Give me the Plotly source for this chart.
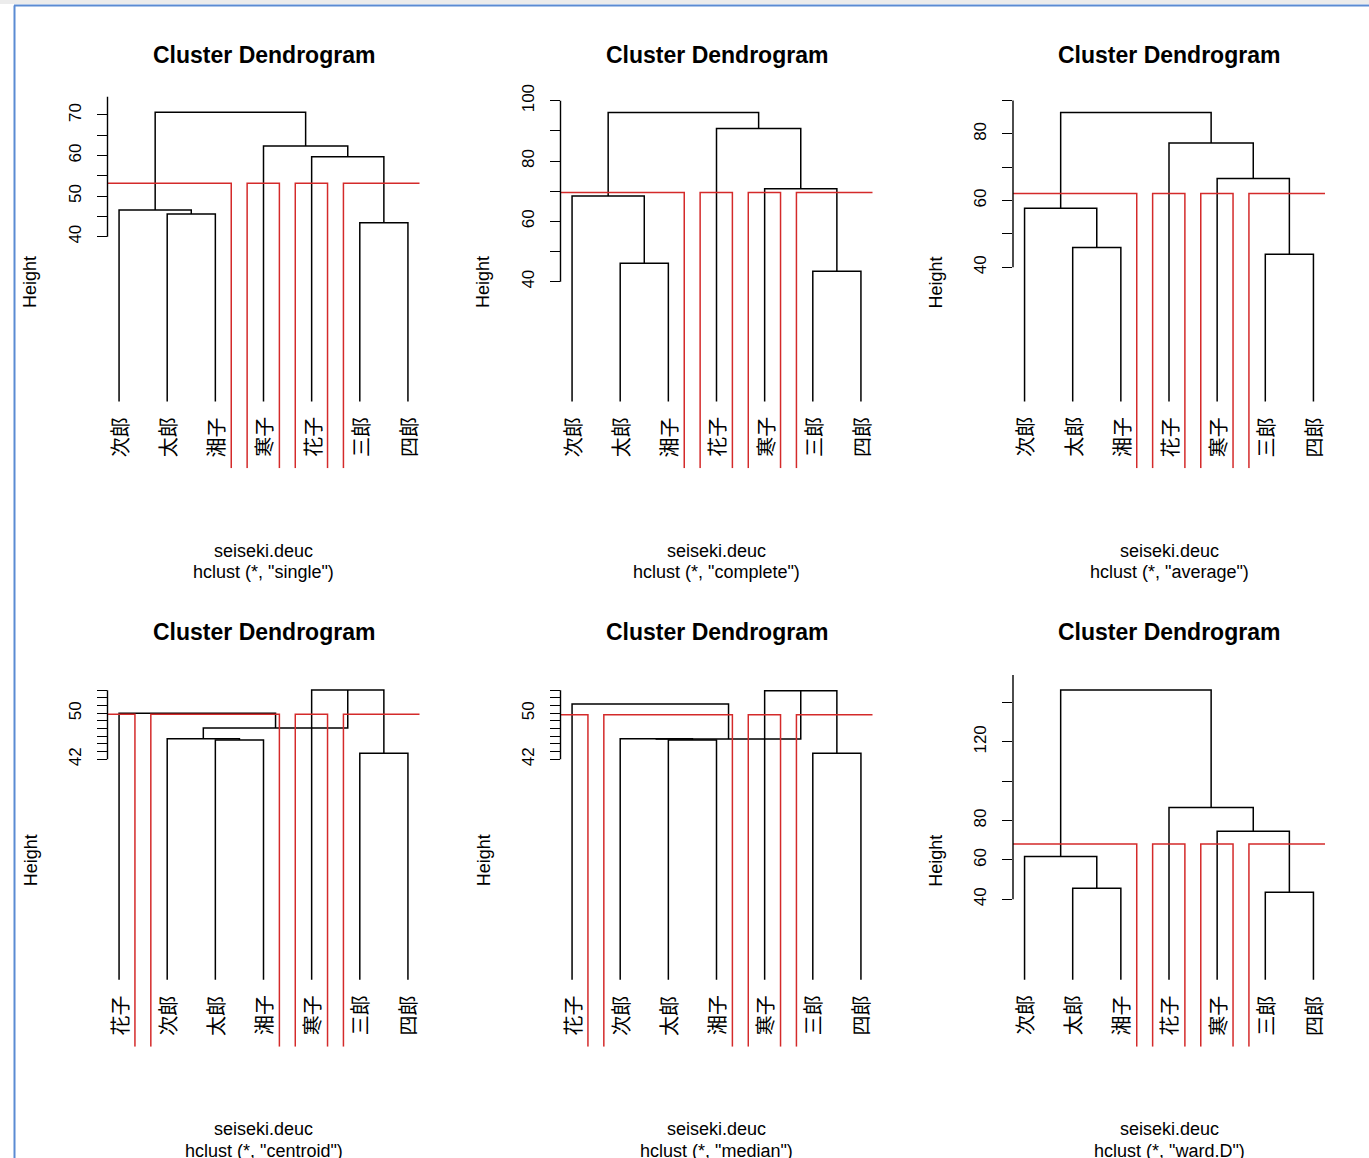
import plotly.graph_objects as go

W, H = 1369, 1158

# ---- data ----
# merges use R's convention: negative = leaf (position in the plotted order), positive = earlier merge
single_leaves = ["次郎", "太郎", "湘子", "寒子", "花子", "三郎", "四郎"]
single_merges = [(-6, -7), (-2, -3), (-1, 2), (-5, 1), (-4, 4), (3, 5)]
single_heights = [43.45, 45.6, 46.6, 59.7, 62.35, 70.65]

complete_leaves = ["次郎", "太郎", "湘子", "花子", "寒子", "三郎", "四郎"]
complete_merges = [(-6, -7), (-2, -3), (-1, 2), (-5, 1), (-4, 4), (3, 5)]
complete_heights = [43.5, 46.1, 68.4, 70.8, 90.8, 96.1]

average_leaves = ["次郎", "太郎", "湘子", "花子", "寒子", "三郎", "四郎"]
average_merges = [(-6, -7), (-2, -3), (-1, 2), (-5, 1), (-4, 4), (3, 5)]
average_heights = [43.9, 45.9, 57.7, 66.6, 77.3, 86.4]

centroid_leaves = ["花子", "次郎", "太郎", "湘子", "寒子", "三郎", "四郎"]
centroid_merges = [(-6, -7), (-3, -4), (-2, 2), (-5, 1), (3, 4), (-1, 5)]
centroid_heights = [43.04, 45.36, 45.58, 54.05, 47.44, 50.0]

median_leaves = ["花子", "次郎", "太郎", "湘子", "寒子", "三郎", "四郎"]
median_merges = [(-6, -7), (-3, -4), (-2, 2), (-5, 1), (3, 4), (-1, 5)]
median_heights = [43.04, 45.36, 45.58, 53.93, 45.55, 51.62]

ward_leaves = ["次郎", "太郎", "湘子", "花子", "寒子", "三郎", "四郎"]
ward_merges = [(-6, -7), (-2, -3), (-1, 2), (-5, 1), (-4, 4), (3, 5)]
ward_heights = [43.6, 45.6, 61.7, 74.6, 86.6, 146.4]

# y axis ticks (R pretty) and the labels R managed to print
single_ticks = [40, 45, 50, 55, 60, 65, 70, 75]
single_ticktext = ["40", "", "50", "", "60", "", "70", ""]
complete_ticks = [40, 50, 60, 70, 80, 90, 100]
complete_ticktext = ["40", "", "60", "", "80", "", "100"]
average_ticks = [40, 50, 60, 70, 80, 90]
average_ticktext = ["40", "", "60", "", "80", ""]
centroid_ticks = [42, 43.33, 44.67, 46, 47.33, 48.67, 50, 51.33, 52.67, 54]
centroid_ticktext = ["42", "", "", "", "", "", "50", "", "", ""]
median_ticks = [42, 43.33, 44.67, 46, 47.33, 48.67, 50, 51.33, 52.67, 54]
median_ticktext = ["42", "", "", "", "", "", "50", "", "", ""]
ward_ticks = [40, 60, 80, 100, 120, 140, 160]
ward_ticktext = ["40", "60", "80", "", "120", "", ""]

# plot window (par("usr")) of each panel
y_limits = [(-17.09, 74.53), (-21.85, 101.35), (-20.3, 91.2),
            (-7.98, 56.66), (-7.98, 56.66), (-34.9, 154.0)]
n_clusters = 4

panels = [
    ("single", single_leaves, single_merges, single_heights, single_ticks, single_ticktext),
    ("complete", complete_leaves, complete_merges, complete_heights, complete_ticks, complete_ticktext),
    ("average", average_leaves, average_merges, average_heights, average_ticks, average_ticktext),
    ("centroid", centroid_leaves, centroid_merges, centroid_heights, centroid_ticks, centroid_ticktext),
    ("median", median_leaves, median_merges, median_heights, median_ticks, median_ticktext),
    ("ward.D", ward_leaves, ward_merges, ward_heights, ward_ticks, ward_ticktext),
]

# pixel layout of the plot regions
col_px = [(107.5, 419.5), (560.5, 872.5), (1013.0, 1325.0)]
row_px = [(96.6, 468.3), (675.0, 1046.7)]
leaf_frac = 0.18     # leaves end this far up the plot region
label_frac = 0.143   # leaf labels start here

FONT = "Liberation Sans, Arial, sans-serif"
CJK = "Noto Sans CJK JP, sans-serif"
RED = "#d42a2a"

fig = go.Figure()
annotations = []
shapes = []


def px_x(p):
    return p / W


def px_y(p):
    return 1 - p / H


for i, (method, leaves, merges, heights, ticks, ticktext) in enumerate(panels):
    r, c = divmod(i, 3)
    xa = "x" if i == 0 else f"x{i + 1}"
    ya = "y" if i == 0 else f"y{i + 1}"
    lo, hi = y_limits[i]
    base = lo + leaf_frac * (hi - lo)
    n = len(leaves)
    m = len(merges)

    def node_x(k):
        if k < 0:
            return -k
        a, b = merges[k - 1]
        return (node_x(a) + node_x(b)) / 2

    def node_h(k):
        return base if k < 0 else heights[k - 1]

    def leaves_of(k):
        if k < 0:
            return [-k]
        a, b = merges[k - 1]
        return leaves_of(a) + leaves_of(b)

    # dendrogram segments
    xs, ys = [], []
    for j, (a, b) in enumerate(merges):
        h = heights[j]
        xs += [node_x(a), node_x(a), node_x(b), node_x(b), None]
        ys += [node_h(a), h, h, node_h(b), None]
    fig.add_trace(go.Scatter(x=xs, y=ys, mode="lines", xaxis=xa, yaxis=ya,
                             line=dict(color="black", width=1.5),
                             hoverinfo="skip", showlegend=False))

    # rect.hclust(k = 4): cut between rev(height)[k-1] and rev(height)[k]
    cut = (heights[m - n_clusters + 1] + heights[m - n_clusters]) / 2
    last = list(range(m - n_clusters + 2, m + 1))
    groups = [ch for mm in last for ch in merges[mm - 1] if ch not in last]

    rx, ry = [], []
    for g in groups:
        lv = leaves_of(g)
        left, right = min(lv) - 0.34, max(lv) + 0.33
        rx += [left, left, right, right, None]
        ry += [lo, cut, cut, lo, None]
    fig.add_trace(go.Scatter(x=rx, y=ry, mode="lines", xaxis=xa, yaxis=ya,
                             line=dict(color=RED, width=1.5),
                             hoverinfo="skip", showlegend=False))

    x0, x1 = col_px[c]
    y0, y1 = row_px[r]
    fig.layout[xa.replace("x", "xaxis")] = dict(
        domain=[px_x(x0), px_x(x1)], range=[0.76, n + 0.24], visible=False,
        anchor=ya, fixedrange=True, automargin=False)
    fig.layout[ya.replace("y", "yaxis")] = dict(
        domain=[px_y(y1), px_y(y0)], range=[lo, hi], anchor=xa,
        showgrid=False, zeroline=False, showline=False,
        ticks="outside", ticklen=10, tickwidth=1.4, tickcolor="black",
        tickvals=ticks, ticktext=ticktext, tickangle=-90,
        tickfont=dict(family=FONT, size=17, color="black"),
        ticklabelstandoff=9, fixedrange=True, automargin=False)

    # axis line, from first tick to last tick, clipped to the plot window
    shapes.append(dict(type="line", xref=f"{xa} domain", yref=ya, x0=0, x1=0,
                       y0=ticks[0], y1=min(ticks[-1], hi),
                       line=dict(color="black", width=1.4)))

    for j, name in enumerate(leaves):
        annotations.append(dict(text=name, x=j + 1, y=label_frac, xref=xa,
                                yref=f"{ya} domain", textangle=-90,
                                xanchor="center", yanchor="top", showarrow=False,
                                font=dict(family=CJK, size=20, color="black")))

    cx = (x0 + x1) / 2
    title_y = 55 + r * 577
    annotations.append(dict(text="<b>Cluster Dendrogram</b>", x=px_x(cx), y=px_y(title_y),
                            xref="paper", yref="paper", showarrow=False,
                            xanchor="center", yanchor="middle",
                            font=dict(family=FONT, size=23, color="black")))
    annotations.append(dict(text="seiseki.deuc", x=px_x(cx), y=px_y(y1 + 82.5),
                            xref="paper", yref="paper", showarrow=False,
                            xanchor="center", yanchor="middle",
                            font=dict(family=FONT, size=18, color="black")))
    annotations.append(dict(text=f'hclust (*, "{method}")', x=px_x(cx), y=px_y(y1 + 104),
                            xref="paper", yref="paper", showarrow=False,
                            xanchor="center", yanchor="middle",
                            font=dict(family=FONT, size=18, color="black")))
    annotations.append(dict(text="Height", x=px_x(x0 - 77), y=px_y((y0 + y1) / 2),
                            xref="paper", yref="paper", showarrow=False, textangle=-90,
                            xanchor="center", yanchor="middle",
                            font=dict(family=FONT, size=18, color="black")))

# window frame of the screenshot
shapes.append(dict(type="rect", xref="paper", yref="paper", x0=0, x1=1,
                   y0=px_y(4), y1=1, fillcolor="#ececec", line=dict(width=0), layer="below"))
shapes.append(dict(type="line", xref="paper", yref="paper", x0=px_x(14), x1=1,
                   y0=px_y(5.5), y1=px_y(5.5), line=dict(color="#5b8bd3", width=2)))
shapes.append(dict(type="line", xref="paper", yref="paper", x0=px_x(14.5), x1=px_x(14.5),
                   y0=px_y(5.5), y1=0, line=dict(color="#5b8bd3", width=2)))

fig.update_layout(width=W, height=H, autosize=False,
                  margin=dict(l=0, r=0, t=0, b=0, pad=0, autoexpand=False),
                  paper_bgcolor="white", plot_bgcolor="white",
                  annotations=annotations, shapes=shapes, showlegend=False)

# pin the figure to the page corner
pin = ("document.body.style.margin='0';"
       "var d=document.getElementById('{plot_id}');"
       "d.style.position='absolute';d.style.top='0px';d.style.left='0px';")
fig.write_html("out.html", config={"displayModeBar": False}, post_script=pin)
